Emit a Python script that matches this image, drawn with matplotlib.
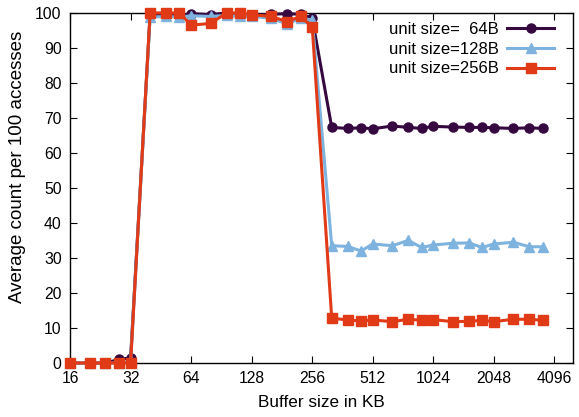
import matplotlib
matplotlib.use("Agg")
import matplotlib.pyplot as plt
from matplotlib.ticker import FixedLocator, NullLocator

plt.rcParams['font.family'] = ['Liberation Sans', 'DejaVu Sans']

# buffer sizes in KB (4 points per octave)
sizes = [16, 20, 24, 28, 32, 40, 48, 56, 64, 80, 96, 112, 128, 160, 192, 224,
         256, 320, 384, 448, 512, 640, 768, 896, 1024, 1280, 1536, 1792,
         2048, 2560, 3072, 3584]

unit64 = [0, 0, 0, 1.0, 1.5, 99.3, 99.5, 99.2, 99.8, 99.5, 100, 99.5, 99.3, 99.6, 99.8, 99.6,
          98.5, 67.3, 67.0, 67.2, 66.9, 67.7, 67.3, 67.0, 67.6, 67.4, 67.3, 67.3,
          67.2, 67.0, 67.2, 67.0]
unit128 = [0, 0, 0, 0, 0.5, 98.8, 99.0, 98.8, 99.2, 99.0, 99.3, 99.0, 99.0, 98.5, 96.8, 98.5,
           98.0, 33.5, 33.3, 32.0, 34.0, 33.5, 35.0, 33.0, 33.7, 34.2, 34.3, 33.0,
           34.0, 34.5, 33.2, 33.2]
unit256 = [0, 0, 0, 0, 0, 100, 100, 100, 96.5, 97.0, 100, 100, 99.5, 99.0, 97.5, 99.0,
           96.0, 12.8, 12.3, 12.0, 12.3, 11.8, 12.5, 12.2, 12.4, 11.8, 11.9, 12.2,
           11.8, 12.5, 12.5, 12.2]

labels = ['unit size=  64B', 'unit size=128B', 'unit size=256B']
xticks = [16, 32, 64, 128, 256, 512, 1024, 2048, 4096]

fig = plt.figure(figsize=(5.79, 4.17), dpi=100)
ax = fig.add_axes([0.121, 0.1295, 0.869, 0.8395])

ax.plot(sizes, unit64, color='#35083f', lw=2.2, marker='o', ms=6.5,
        label=labels[0], clip_on=False, zorder=3)
ax.plot(sizes, unit128, color='#7db3de', lw=2.2, marker='^', ms=7,
        label=labels[1], clip_on=False, zorder=4)
ax.plot(sizes, unit256, color='#e13a17', lw=2.2, marker='s', ms=7.5,
        label=labels[2], clip_on=False, zorder=5)

ax.set_xscale('log', base=2)
ax.set_xlim(16, 5080)
ax.set_ylim(0, 100)
ax.xaxis.set_major_locator(FixedLocator(xticks))
ax.xaxis.set_minor_locator(NullLocator())
ax.set_xticklabels([str(t) for t in xticks])
ax.set_yticks(range(0, 101, 10))

ax.tick_params(direction='in', top=True, right=True, length=5, width=0.8,
               labelsize=11.3, pad=6)
for s in ax.spines.values():
    s.set_linewidth(1.0)

ax.set_xlabel('Buffer size in KB', fontsize=12.3, labelpad=6)
ax.set_ylabel('Average count per 100 accesses', fontsize=13.5)
ax.yaxis.set_label_coords(-0.088, 0.56)

leg = ax.legend(loc='upper right', frameon=False, markerfirst=False,
                fontsize=12, handlelength=2.8, handletextpad=0.5,
                labelspacing=0.28, borderaxespad=0.15,
                bbox_to_anchor=(0.98, 1.0))
for t in leg.get_texts():
    t.set_ha('right')

fig.savefig('out.png', dpi=100)
